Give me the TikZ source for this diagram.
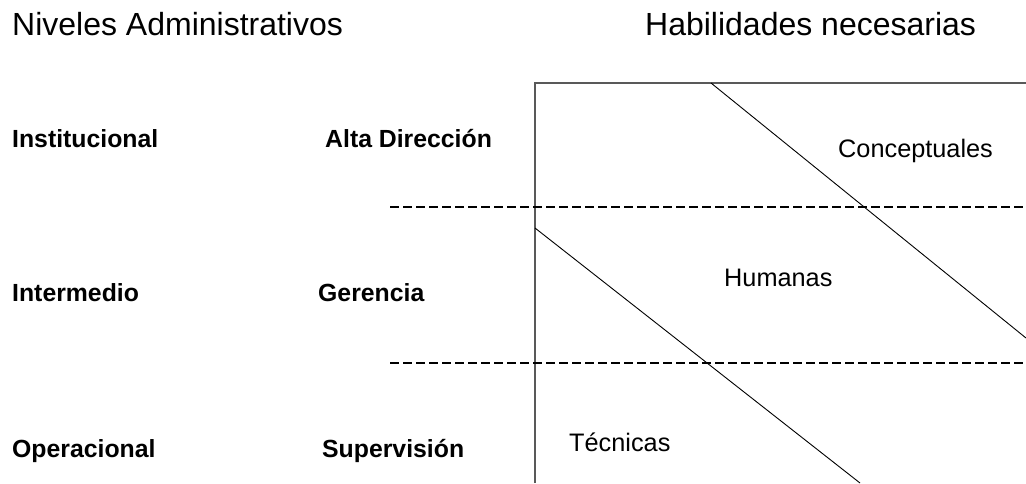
\documentclass[tikz,border=0pt]{standalone}
\usepackage{fontspec}
\setmainfont{Liberation Sans}

\begin{document}
\begin{tikzpicture}[x=1pt, y=-1pt,
    header/.style={anchor=base west, inner sep=0pt, font=\fontsize{32}{37}\selectfont},
    level/.style={anchor=base west, inner sep=0pt, font=\fontsize{24.8}{28}\selectfont\bfseries},
    skill/.style={anchor=base west, inner sep=0pt, font=\fontsize{25.3}{29}\selectfont},
    divider/.style={line width=1.2pt, dash pattern=on 9pt off 4pt},
    slope/.style={line width=0.9pt}]

% Fix the page size
\useasboundingbox (0,0) rectangle (1026,483);

% Headings
\node[header] (niveles) at (12,35) {Niveles Administrativos};
\node[header] (habilidades) at (645,35) {Habilidades necesarias};

% Administrative levels
\node[level] (institucional) at (12,147) {Institucional};
\node[level] (alta) at (325,147) {Alta Dirección};
\node[level] (intermedio) at (12,301) {Intermedio};
\node[level] (gerencia) at (318,301) {Gerencia};
\node[level] (operacional) at (12,457) {Operacional};
\node[level] (supervision) at (322,457) {Supervisión};

% Frame of the skills chart
\coordinate (boxbl) at (535,483);
\coordinate (boxtl) at (535,83);
\coordinate (boxtr) at (1026,83);
\draw[gray!70!black, line width=1.2pt] (boxbl) -- (boxtl) -- (boxtr);

% Dashed level dividers
\coordinate (upperl) at (390,207);
\coordinate (upperr) at (1026,207);
\coordinate (lowerl) at (390,363);
\coordinate (lowerr) at (1026,363);
\draw[divider] (upperl) -- (upperr);
\draw[divider] (lowerl) -- (lowerr);

% Diagonal skill boundaries
\coordinate (topa) at (711,83);
\coordinate (topb) at (1026,338);
\coordinate (bota) at (535,228);
\coordinate (botb) at (860,483);
\draw[slope] (topa) -- (topb);
\draw[slope] (bota) -- (botb);

% Skills
\node[skill] (conceptuales) at (838,157) {Conceptuales};
\node[skill] (humanas) at (724,286) {Humanas};
\node[skill] (tecnicas) at (569,451) {Técnicas};
\end{tikzpicture}
\end{document}
